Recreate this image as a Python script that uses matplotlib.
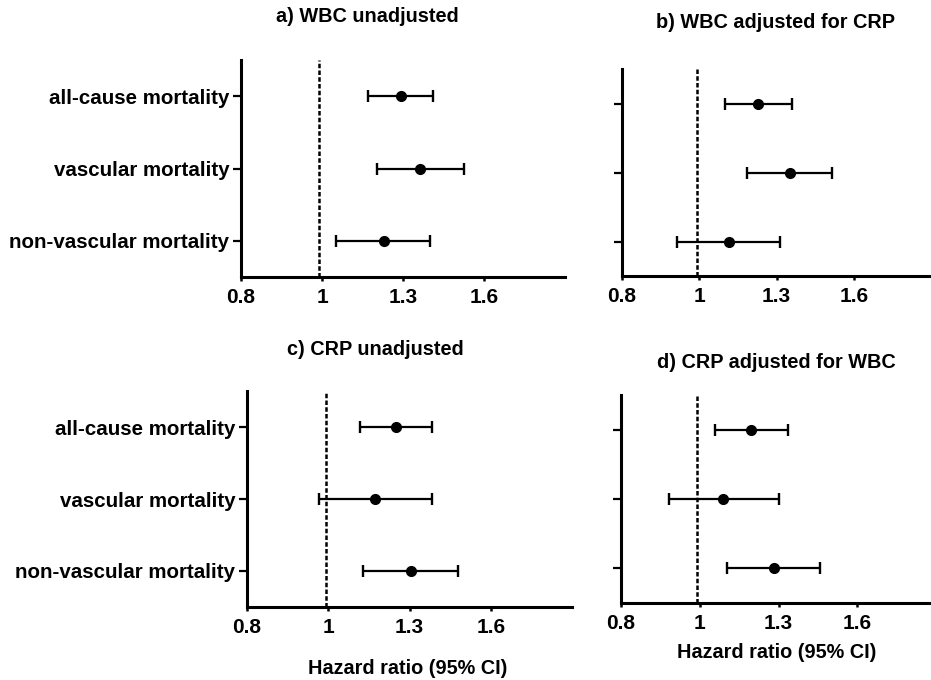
import matplotlib
matplotlib.use("Agg")
import matplotlib.pyplot as plt

plt.rcParams.update({
    "font.family": ["Liberation Sans", "DejaVu Sans"],
    "font.weight": "bold",
})

outcomes = ["all-cause mortality", "vascular mortality", "non-vascular mortality"]

# hazard ratios and 95% CI (in axis coordinates)
hr_a = [1.291, 1.363, 1.228]
lo_a = [1.171, 1.204, 1.053]
hi_a = [1.412, 1.527, 1.401]

hr_b = [1.229, 1.352, 1.115]
lo_b = [1.101, 1.184, 0.912]
hi_b = [1.362, 1.517, 1.313]

hr_c = [1.251, 1.173, 1.304]
lo_c = [1.116, 0.966, 1.128]
hi_c = [1.383, 1.383, 1.480]

hr_d = [1.196, 1.090, 1.281]
lo_d = [1.056, 0.883, 1.104]
hi_d = [1.334, 1.302, 1.459]

tick_pos = [0.7, 1.0, 1.3, 1.6]
tick_lab = ["0.8", "1", "1.3", "1.6"]
REF = 0.99

W, H = 931, 680
fig = plt.figure(figsize=(W / 100, H / 100), dpi=100)


def px_rect(left, right, top, bottom):
    return [left / W, 1 - bottom / H, (right - left) / W, (bottom - top) / H]


def forest(rect, hr, lo, hi, title, title_xy, show_labels, xmax=1.9, xlabel_xy=None):
    ax = fig.add_axes(rect)
    ys = list(range(1, len(hr) + 1))
    xerr = [[h - l for h, l in zip(hr, lo)], [u - h for h, u in zip(hr, hi)]]
    ax.errorbar(hr, ys, xerr=xerr, fmt="o", color="black", ms=7,
                elinewidth=1.6, capsize=4.5, capthick=1.7, zorder=3)
    ax.axvline(REF, color="black", ls=(0, (1.8, 0.9)), lw=1.8, zorder=2)
    ax.set_xlim(0.7, xmax)
    ax.set_ylim(3.5, 0.5)
    ax.set_yticks(ys)
    if show_labels:
        ax.set_yticklabels(outcomes, fontsize=14.8, fontweight="bold")
    else:
        ax.set_yticklabels([])
    ax.set_xticks(tick_pos)
    ax.set_xticklabels(tick_lab, fontsize=15, fontweight="bold")
    for s in ("top", "right"):
        ax.spines[s].set_visible(False)
    for s in ("left", "bottom"):
        ax.spines[s].set_linewidth(2.2)
    ax.tick_params(axis="y", length=5.5, width=1.6, pad=3)
    ax.tick_params(axis="x", length=3, width=1.8, pad=5)
    fig.text(title_xy[0] / W, 1 - title_xy[1] / H, title, ha="center",
             va="center", fontsize=14.3, fontweight="bold")
    if xlabel_xy:
        fig.text(xlabel_xy[0] / W, 1 - xlabel_xy[1] / H,
                 "Hazard ratio (95% CI)", ha="center", va="center",
                 fontsize=14.3, fontweight="bold")
    return ax


forest(px_rect(241, 565, 60, 277), hr_a, lo_a, hi_a,
       "a) WBC unadjusted", (367, 17), True)
forest(px_rect(622, 931, 69, 276), hr_b, lo_b, hi_b,
       "b) WBC adjusted for CRP", (775, 22), False)
forest(px_rect(247, 572, 391, 607), hr_c, lo_c, hi_c,
       "c) CRP unadjusted", (375, 350), True, xlabel_xy=(408, 668))
forest(px_rect(621, 931, 395, 603), hr_d, lo_d, hi_d,
       "d) CRP adjusted for WBC", (776, 362), False, xmax=1.88,
       xlabel_xy=(777, 653))

fig.savefig("out.png", dpi=100, facecolor="white")
